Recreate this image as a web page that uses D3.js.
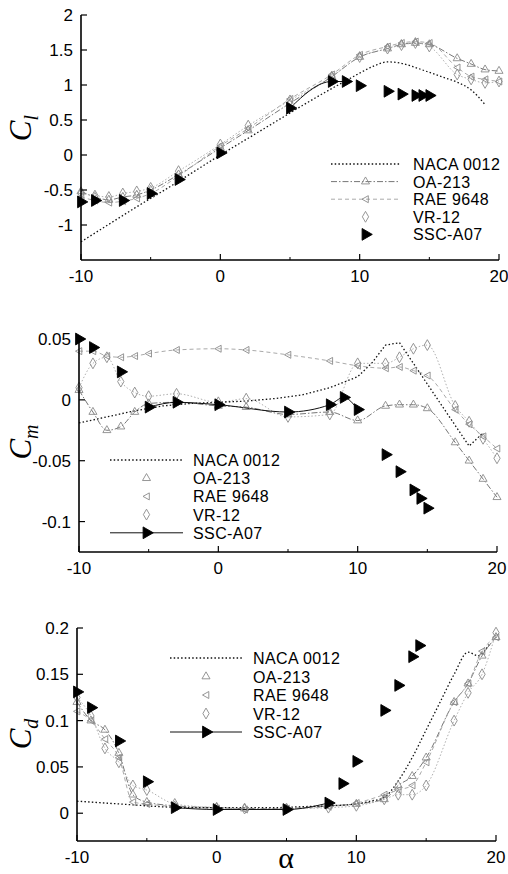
<!DOCTYPE html>
<html>
<head>
<meta charset="utf-8">
<script src="https://cdn.jsdelivr.net/npm/d3@7"></script>
<style>
  body { margin: 0; background: #fff; }
  svg { display: block; }
</style>
</head>
<body>
<script>
let w = 508;
let h = 874;

let names = ["NACA 0012", "OA-213", "RAE 9648", "VR-12", "SSC-A07"];

let xTicks = [-10, 0, 10, 20];
let xTickLabels = ["-10", "0", "10", "20"];

let clTicks = [-1, -0.5, 0, 0.5, 1, 1.5, 2];
let clTickLabels = ["-1", "-0.5", "0", "0.5", "1", "1.5", "2"];
let cmTicks = [-0.1, -0.05, 0, 0.05];
let cmTickLabels = ["-0.1", "-0.05", "0", "0.05"];
let cdTicks = [0, 0.05, 0.1, 0.15, 0.2];
let cdTickLabels = ["0", "0.05", "0.1", "0.15", "0.2"];

// NACA 0012 (dotted line only)
let nacaClAlpha = [-10, -8, -6, -4, -2, 0, 2, 4, 6, 8, 9, 10, 11, 12, 13, 14, 15, 16, 17, 18, 19];
let nacaCl = [-1.24, -0.99, -0.74, -0.5, -0.25, 0, 0.24, 0.48, 0.72, 0.95, 1.06, 1.17, 1.27, 1.33, 1.31, 1.25, 1.18, 1.11, 1.04, 0.93, 0.72];
let nacaCmAlpha = [-10, -8, -6, -4, -2, 0, 2, 4, 6, 8, 10, 11, 12, 13, 18, 19];
let nacaCm = [-0.019, -0.014, -0.009, -0.005, -0.003, -0.002, -0.001, 0.001, 0.004, 0.01, 0.019, 0.03, 0.045, 0.047, -0.038, -0.027];
let nacaCdAlpha = [-10, -8, -6, -4, -2, 0, 2, 4, 6, 8, 10, 11, 12, 13, 14, 15, 16, 17, 18, 18.7, 19.5];
let nacaCd = [0.013, 0.011, 0.009, 0.007, 0.006, 0.006, 0.006, 0.006, 0.007, 0.008, 0.01, 0.013, 0.017, 0.035, 0.06, 0.09, 0.12, 0.15, 0.174, 0.17, 0.182];

// the three faint comparison airfoils share one alpha list
let grayAlpha = [-10, -9, -8, -7, -6, -5, -3, 0, 2, 5, 8, 10, 12, 13, 14, 15, 17, 18, 19, 20];
let oaCl = [-0.52, -0.6, -0.64, -0.6, -0.57, -0.5, -0.28, 0.1, 0.35, 0.74, 1.12, 1.4, 1.52, 1.58, 1.6, 1.58, 1.38, 1.3, 1.22, 1.2];
let raeCl = [-0.6, -0.65, -0.68, -0.66, -0.62, -0.55, -0.3, 0.13, 0.38, 0.8, 1.15, 1.43, 1.55, 1.6, 1.62, 1.6, 1.25, 1.12, 1.08, 1.05];
let vrCl = [-0.55, -0.58, -0.6, -0.55, -0.52, -0.47, -0.23, 0.15, 0.42, 0.78, 1.12, 1.4, 1.52, 1.57, 1.6, 1.55, 1.15, 1.08, 1.03, 1.05];
let oaCm = [0.008, -0.01, -0.025, -0.022, -0.01, -0.003, -0.002, -0.005, -0.006, -0.012, -0.01, -0.017, -0.005, -0.004, -0.004, -0.007, -0.035, -0.05, -0.065, -0.08];
let raeCm = [0.04, 0.04, 0.036, 0.035, 0.036, 0.038, 0.041, 0.042, 0.041, 0.037, 0.032, 0.028, 0.026, 0.027, 0.024, 0.02, -0.008, -0.02, -0.03, -0.04];
let vrCm = [0.01, 0.03, 0.035, 0.015, 0.006, 0.003, 0.005, -0.002, 0.001, -0.014, -0.012, 0.03, 0.03, 0.035, 0.042, 0.045, -0.005, -0.018, -0.032, -0.048];
let oaCd = [0.12, 0.1, 0.09, 0.065, 0.02, 0.012, 0.008, 0.006, 0.005, 0.005, 0.008, 0.01, 0.015, 0.03, 0.04, 0.06, 0.12, 0.14, 0.17, 0.19];
let raeCd = [0.11, 0.1, 0.08, 0.06, 0.012, 0.01, 0.007, 0.005, 0.004, 0.005, 0.007, 0.011, 0.02, 0.025, 0.03, 0.055, 0.12, 0.14, 0.175, 0.19];
let vrCd = [0.125, 0.105, 0.07, 0.055, 0.03, 0.025, 0.01, 0.006, 0.005, 0.005, 0.006, 0.008, 0.015, 0.02, 0.02, 0.03, 0.1, 0.13, 0.15, 0.195];

// SSC-A07 (black filled triangles)
let sscAlpha = [-10, -9, -7, -5, -3, 0, 5, 8, 9, 10, 12, 13, 14, 14.5, 15];
let sscCl = [-0.67, -0.65, -0.65, -0.55, -0.35, 0.03, 0.67, 1.05, 1.05, 0.99, 0.91, 0.87, 0.85, 0.85, 0.85];
let sscCm = [0.05, 0.043, 0.023, -0.006, -0.002, -0.004, -0.01, -0.004, 0.002, -0.008, -0.045, -0.059, -0.074, -0.081, -0.089];
let sscCd = [0.131, 0.114, 0.078, 0.034, 0.006, 0.004, 0.004, 0.011, 0.032, 0.056, 0.111, 0.138, 0.169, 0.181, null];

let svg = d3.select("body")
    .append("svg")
    .attr("width", w)
    .attr("height", h)

let zip = (xs, ys) => xs.map((x, i) => ({a: x, v: ys[i]})).filter(d => d.v != null)

let leftTri = d3.symbol().type({draw: (ctx, size) => {
    let r = Math.sqrt(size) * 0.6;
    ctx.moveTo(-r, 0); ctx.lineTo(r * 0.8, -r); ctx.lineTo(r * 0.8, r); ctx.closePath();
}})

let styles = [
    {stroke: "#111", width: 1.3, dash: "1.5,2.2", marker: null},
    {stroke: "#777", width: 1, dash: "6,2,1.5,2", marker: d3.symbol().type(d3.symbolTriangle).size(28), mfill: "none", mstroke: "#8a8a8a"},
    {stroke: "#aaa", width: 1, dash: "4,3", marker: leftTri.size(34), mfill: "none", mstroke: "#8a8a8a"},
    {stroke: "#b0b0b0", width: 1, dash: "1.5,2", marker: d3.symbol().type(d3.symbolDiamond).size(34), mfill: "none", mstroke: "#8a8a8a"},
    {stroke: "#111", width: 1, dash: null, marker: d3.symbol().type(d3.symbolTriangle).size(60), mfill: "#000", mstroke: "#000", rot: 90}
]

let panels = [
    {x0: 81, x1: 499, y0: 15, y1: 260, dom: [-1.5, 2], ticks: clTicks, tickLabels: clTickLabels, sub: "l",
     labelX: 31, labelY: 128, lx0: 331, lx1: 400, tx: 413, ly: 164, ldy: 17.6, legendLine: [1, 1, 1, 0, 0],
     series: [zip(nacaClAlpha, nacaCl), zip(grayAlpha, oaCl), zip(grayAlpha, raeCl), zip(grayAlpha, vrCl), zip(sscAlpha, sscCl)],
     sscLine: [5, 9]},
    {x0: 79, x1: 497, y0: 339, y1: 552, dom: [-0.125, 0.05], ticks: cmTicks, tickLabels: cmTickLabels, sub: "m",
     labelX: 31, labelY: 442, lx0: 110, lx1: 183, tx: 193, ly: 460, ldy: 18.2, legendLine: [1, 0, 0, 0, 1],
     series: [zip(nacaCmAlpha, nacaCm), zip(grayAlpha, oaCm), zip(grayAlpha, raeCm), zip(grayAlpha, vrCm), zip(sscAlpha, sscCm)],
     sscLine: [-5, 10], linear: true},
    {x0: 77, x1: 496, y0: 628, y1: 841, dom: [-0.03, 0.2], ticks: cdTicks, tickLabels: cdTickLabels, sub: "d",
     labelX: 31, labelY: 734, lx0: 170, lx1: 242, tx: 253, ly: 658, ldy: 18.5, legendLine: [1, 0, 0, 0, 1],
     series: [zip(nacaCdAlpha, nacaCd), zip(grayAlpha, oaCd), zip(grayAlpha, raeCd), zip(grayAlpha, vrCd), zip(sscAlpha, sscCd)],
     sscLine: [-3, 8]}
]

panels.forEach(p => {
    let xScale = d3.scaleLinear().domain([-10, 20]).range([p.x0, p.x1])
    let yScale = d3.scaleLinear().domain(p.dom).range([p.y1, p.y0])
    let g = svg.append("g")

    // series lines, faint ones first
    ;[1, 2, 3, 0, 4].forEach(i => {
        let s = styles[i]
        let pts = p.series[i]
        if (i === 4) pts = pts.filter(d => d.a >= p.sscLine[0] && d.a <= p.sscLine[1])
        let curve = (i === 0 && p.linear) ? d3.curveLinear : d3.curveMonotoneX
        let line = d3.line().x(d => xScale(d.a)).y(d => yScale(d.v)).curve(curve)
        g.append("path")
            .attr("d", line(pts))
            .attr("fill", "none")
            .attr("stroke", s.stroke)
            .attr("stroke-width", s.width)
            .attr("stroke-dasharray", s.dash)
    })

    // markers
    ;[1, 2, 3, 4].forEach(i => {
        let s = styles[i]
        g.selectAll(null)
            .data(p.series[i])
            .enter()
            .append("path")
            .attr("d", s.marker)
            .attr("transform", d => `translate(${xScale(d.a)},${yScale(d.v)}) rotate(${s.rot || 0})`)
            .attr("fill", s.mfill)
            .attr("stroke", s.mstroke)
            .attr("stroke-width", 0.9)
    })

    // axes: left and bottom only, ticks inward
    g.append("line").attr("x1", p.x0).attr("x2", p.x0).attr("y1", p.y0).attr("y2", p.y1)
        .attr("stroke", "#000").attr("stroke-width", 1.6)
    g.append("line").attr("x1", p.x0).attr("x2", p.x1).attr("y1", p.y1).attr("y2", p.y1)
        .attr("stroke", "#000").attr("stroke-width", 1.6)

    g.selectAll(null).data(p.ticks).enter().append("line")
        .attr("x1", p.x0).attr("x2", p.x0 + 6)
        .attr("y1", d => yScale(d)).attr("y2", d => yScale(d))
        .attr("stroke", "#000").attr("stroke-width", 1.2)
    g.selectAll(null).data(p.ticks).enter().append("text")
        .text((d, i) => p.tickLabels[i])
        .attr("x", p.x0 - 8)
        .attr("y", d => yScale(d) + 6)
        .attr("text-anchor", "end")
        .attr("font-family", "Liberation Sans, Arial, sans-serif")
        .attr("font-size", "17px")

    g.selectAll(null).data(xTicks).enter().append("line")
        .attr("x1", d => xScale(d)).attr("x2", d => xScale(d))
        .attr("y1", p.y1).attr("y2", p.y1 - 6)
        .attr("stroke", "#000").attr("stroke-width", 1.2)
    g.selectAll(null).data(d3.range(-5, 20, 10)).enter().append("line")
        .attr("x1", d => xScale(d)).attr("x2", d => xScale(d))
        .attr("y1", p.y1).attr("y2", p.y1 - 3)
        .attr("stroke", "#000").attr("stroke-width", 1)
    g.selectAll(null).data(xTicks).enter().append("text")
        .text((d, i) => xTickLabels[i])
        .attr("x", d => xScale(d))
        .attr("y", p.y1 + 22)
        .attr("text-anchor", "middle")
        .attr("font-family", "Liberation Sans, Arial, sans-serif")
        .attr("font-size", "17px")

    // rotated C_x label
    let lab = g.append("text")
        .attr("transform", `translate(${p.labelX},${p.labelY}) rotate(-90)`)
        .attr("text-anchor", "middle")
        .attr("font-family", "Liberation Serif, Times New Roman, serif")
        .attr("font-style", "italic")
        .attr("font-size", "31px")
    lab.append("tspan").text("C")
    lab.append("tspan").text(p.sub).attr("font-size", "20px").attr("dy", 7)

    // legend
    names.forEach((name, i) => {
        let s = styles[i]
        let y = p.ly + i * p.ldy
        if (p.legendLine[i]) {
            g.append("line")
                .attr("x1", p.lx0).attr("x2", p.lx1).attr("y1", y).attr("y2", y)
                .attr("stroke", s.stroke).attr("stroke-width", s.width)
                .attr("stroke-dasharray", s.dash)
        }
        if (s.marker) {
            g.append("path")
                .attr("d", s.marker)
                .attr("transform", `translate(${(p.lx0 + p.lx1) / 2},${y}) rotate(${s.rot || 0})`)
                .attr("fill", s.mfill)
                .attr("stroke", s.mstroke)
                .attr("stroke-width", 0.9)
        }
        g.append("text")
            .text(name)
            .attr("x", p.tx)
            .attr("y", y + 6)
            .attr("font-family", "Liberation Sans, Arial, sans-serif")
            .attr("font-size", "16px")
            .attr("letter-spacing", "0.4px")
    })
})

svg.append("text")
    .text("α")
    .attr("x", 286)
    .attr("y", 868)
    .attr("text-anchor", "middle")
    .attr("font-family", "Liberation Serif, Times New Roman, serif")
    .attr("font-size", "30px")
</script>
</body>
</html>
